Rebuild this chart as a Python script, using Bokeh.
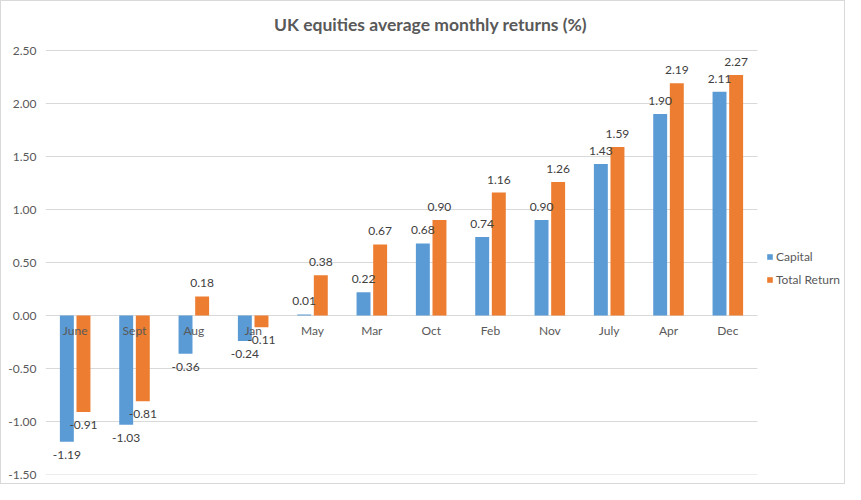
from bokeh.plotting import figure
from bokeh.models import (ColumnDataSource, Range1d, LabelSet, Label,
                          Legend, LegendItem, NumeralTickFormatter, FixedTicker)
from bokeh.embed import file_html
from bokeh.resources import INLINE
from bokeh.core.properties import value

chart_title = "UK equities average monthly returns (%)"
months = ["June", "Sept", "Aug", "Jan", "May", "Mar", "Oct", "Feb", "Nov", "July", "Apr", "Dec"]
capital = [-1.19, -1.03, -0.36, -0.24, 0.01, 0.22, 0.68, 0.74, 0.90, 1.43, 1.90, 2.11]
total_return = [-0.91, -0.81, 0.18, -0.11, 0.38, 0.67, 0.90, 1.16, 1.26, 1.59, 2.19, 2.27]
y_ticks = [-1.5, -1.0, -0.5, 0.0, 0.5, 1.0, 1.5, 2.0, 2.5]
series_names = ["Capital", "Total Return"]

BLUE = "#5B9BD5"
ORANGE = "#ED7D31"
FONT = "Lato"
W, H = 845, 484
LEFT, BOTTOM = 44, 11          # border sizes (px)
TOP_GAP = 49                   # px between top of canvas and top tick
PX_PER_CAT = 712 / 12          # category width in px
PX_PER_UNIT = (H - BOTTOM - TOP_GAP) / 4   # px per y unit

n = len(months)
centers = [i + 0.5 for i in range(n)]
x_cap = [c - 0.14 for c in centers]
x_tot = [c + 0.14 for c in centers]

def offsets(vals):
    return [13 if v >= 0 else -13 for v in vals]

src = ColumnDataSource(dict(
    month=months, xc=centers, xcap=x_cap, xtot=x_tot,
    capital=capital, total=total_return,
    cap_txt=["%.2f" % v for v in capital],
    tot_txt=["%.2f" % v for v in total_return],
    cap_off=offsets(capital), tot_off=offsets(total_return),
    zero=[0.0] * n,
))

frame_w = W - LEFT
frame_h = H - BOTTOM
p = figure(width=W, height=H, output_backend="svg", toolbar_location=None,
           x_range=Range1d(0, frame_w / PX_PER_CAT),
           y_range=Range1d(y_ticks[0], y_ticks[-1] + TOP_GAP / PX_PER_UNIT),
           min_border_left=LEFT, min_border_right=0, min_border_top=0, min_border_bottom=BOTTOM)
p.outline_line_color = None
p.background_fill_color = "white"
p.border_fill_color = "white"
p.styles = {"border": "1px solid #D9D9D9"}

p.xaxis.visible = False
p.xgrid.visible = False
p.ygrid.visible = False
p.yaxis.ticker = FixedTicker(ticks=y_ticks)
p.yaxis.formatter = NumeralTickFormatter(format="0.00")
p.yaxis.axis_line_color = None
p.yaxis.major_tick_line_color = None
p.yaxis.minor_tick_line_color = None
p.yaxis.major_tick_out = 0
p.yaxis.major_tick_in = 0
p.yaxis.major_label_text_font = FONT
p.yaxis.major_label_text_font_size = "12px"
p.yaxis.major_label_text_color = "#595959"
p.yaxis.major_label_standoff = 9

# horizontal gridlines spanning only the category area
p.segment(x0=0, x1=n, y0=y_ticks, y1=y_ticks, line_color="#D9D9D9", line_width=1)

r1 = p.vbar(x="xcap", top="capital", bottom=0, width=0.235,
            source=src, fill_color=BLUE, line_color=None)
r2 = p.vbar(x="xtot", top="total", bottom=0, width=0.235,
            source=src, fill_color=ORANGE, line_color=None)

lab1 = LabelSet(x="xcap", y="capital", text="cap_txt",
                y_offset="cap_off", text_baseline="middle", text_align="center",
                source=src, text_font=value(FONT), text_font_size="12px", text_color="#404040")
lab2 = LabelSet(x="xtot", y="total", text="tot_txt",
                y_offset="tot_off", text_baseline="middle", text_align="center",
                source=src, text_font=value(FONT), text_font_size="12px", text_color="#404040")
p.add_layout(lab1)
p.add_layout(lab2)

p.text(x="xc", y="zero", text="month", source=src, y_offset=15,
       text_align="center", text_baseline="middle", text_font=value(FONT),
       text_font_size="12px", text_color="#595959")

title_label = Label(x=385, y=frame_h - 23, x_units="screen", y_units="screen", text=chart_title,
                    text_align="center", text_baseline="middle", text_font=FONT,
                    text_font_size="17.5px", text_font_style="bold", text_color="#595959")
p.add_layout(title_label)

legend = Legend(items=[LegendItem(label=series_names[0], renderers=[r1]),
                       LegendItem(label=series_names[1], renderers=[r2])],
                location=(721, 185), orientation="vertical",
                glyph_width=7, glyph_height=7, label_height=20, spacing=3,
                padding=0, margin=0, label_standoff=3,
                label_text_font=FONT, label_text_font_size="12px", label_text_color="#595959",
                border_line_color=None, background_fill_alpha=0)
p.add_layout(legend)

open("out.html", "w").write(file_html(p, INLINE))
